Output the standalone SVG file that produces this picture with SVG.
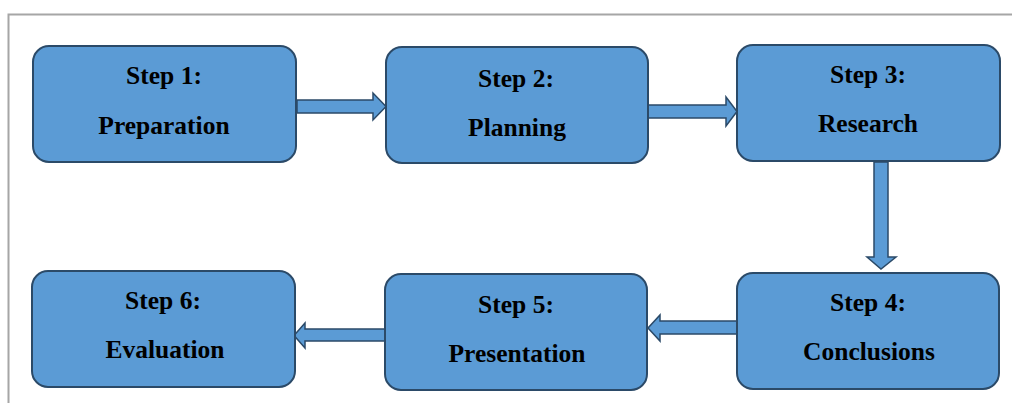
<svg xmlns="http://www.w3.org/2000/svg" width="1012" height="403" viewBox="0 0 1012 403">
<style>
.box{fill:#5B9BD5;stroke:#2B4A68;stroke-width:2}
.arr{fill:#5B9BD5;stroke:#2B4A68;stroke-width:1.5;stroke-linejoin:miter}
.t{font-family:"Liberation Serif","Times New Roman",serif;font-weight:bold;font-size:25.5px;fill:#000;text-anchor:middle}
</style>
<rect x="0" y="0" width="1012" height="403" fill="#fff"/>
<path d="M8.5 403 V14.5 H1012" fill="none" stroke="#A6A6A6" stroke-width="2"/>
<g id="connectors">
<path class="arr" d="M297 100 H373 V93 L386 106.5 L373 120 V113 H297 Z"/>
<path class="arr" d="M648 105 H726 V97 L737 111.5 L726 126 V118 H648 Z"/>
<path class="arr" d="M874 162 V257 H867 L881 269 L896 257 H888 V162 Z"/>
<path class="arr" d="M737 321 H660 V315 L648 328 L660 341 V334 H737 Z"/>
<path class="arr" d="M385 329 H305 V323 L294 335.5 L305 348 V341 H385 Z"/>
</g>
<g id="step1"><rect class="box" x="33" y="46" width="263" height="116" rx="16"/><text class="t" x="164" y="84">Step 1:</text><text class="t" x="164" y="134">Preparation</text></g>
<g id="step2"><rect class="box" x="386" y="47" width="262" height="116" rx="16"/><text class="t" x="516" y="87">Step 2:</text><text class="t" x="517" y="136">Planning</text></g>
<g id="step3"><rect class="box" x="737" y="45" width="263" height="116" rx="16"/><text class="t" x="868" y="83">Step 3:</text><text class="t" x="868" y="132">Research</text></g>
<g id="step4"><rect class="box" x="737" y="273" width="262" height="116" rx="16"/><text class="t" x="868" y="311">Step 4:</text><text class="t" x="869" y="360">Conclusions</text></g>
<g id="step5"><rect class="box" x="385" y="274" width="262" height="116" rx="16"/><text class="t" x="516" y="313">Step 5:</text><text class="t" x="517" y="362">Presentation</text></g>
<g id="step6"><rect class="box" x="32" y="271" width="263" height="116" rx="16"/><text class="t" x="163" y="309">Step 6:</text><text class="t" x="165" y="358">Evaluation</text></g>
</svg>
